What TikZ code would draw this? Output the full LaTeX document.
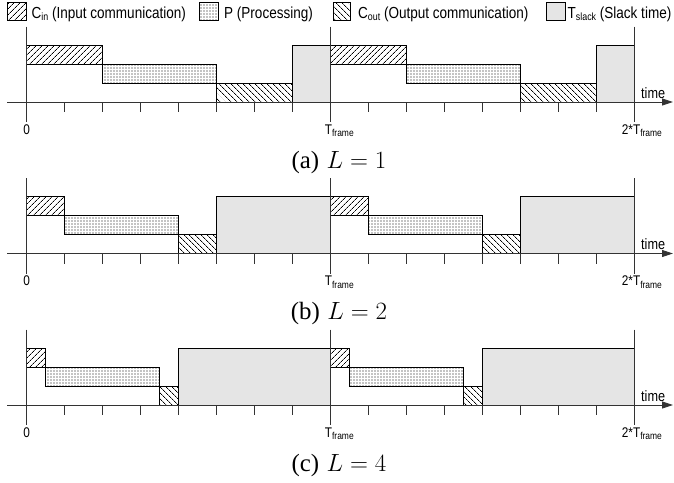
\documentclass[tikz,border=0pt]{standalone}
\usepackage{fontspec}
\newfontfamily\arial{Liberation Sans}
\newfontfamily\capserif{Liberation Serif}
\usetikzlibrary{patterns.meta,arrows.meta}
\newcommand\sq[1]{\scalebox{0.845}[1]{#1}}
\newcommand\legsub[1]{\raisebox{-2.5pt}{\fontsize{10.5}{12}\selectfont #1}}
\newcommand\ticksub[1]{\raisebox{-2.5pt}{\fontsize{10}{11}\selectfont #1}}
\def\xo{26.7}
\def\uw{38}
\tikzset{
  box/.style={draw=black, line width=0.7pt},
  cin/.style={box, pattern={Lines[angle=45,distance=4pt,line width=0.75pt]}},
  cout/.style={box, pattern={Lines[angle=-45,distance=4pt,line width=0.75pt]}},
  proc/.style={box, pattern={Dots[distance=3pt,radius=0.55pt]}},
  slack/.style={box, fill=black!10},
  axisline/.style={draw=black!80, line width=0.9pt},
  legend/.style={inner sep=0pt, anchor=base west, font=\arial\fontsize{16}{19}\selectfont},
  ticklab/.style={inner sep=0pt, anchor=base, font=\arial\fontsize{14}{16}\selectfont},
  timelab/.style={inner sep=0pt, anchor=base west, font=\arial\fontsize{15}{18}\selectfont},
  caption/.style={inner sep=0pt, anchor=base, font=\fontsize{24.88}{30}\selectfont},
}
\newcommand\drawpanel[5]{%
  \foreach \s in {0,8}{%
    \path[cin]   ({\xo+\s*\uw},{#1-57}) rectangle ({\xo+(\s+#2)*\uw},{#1-38});
    \path[proc]  ({\xo+(\s+#2)*\uw},{#1-38}) rectangle ({\xo+(\s+#3)*\uw},{#1-19});
    \path[cout]  ({\xo+(\s+#3)*\uw},{#1-19}) rectangle ({\xo+(\s+#4)*\uw},{#1});
    \path[slack] ({\xo+(\s+#4)*\uw},{#1-57}) rectangle ({\xo+(\s+8)*\uw},{#1});
  }
  \coordinate (#5-start) at (7,#1);
  \coordinate (#5-end) at (673,#1);
  \draw[axisline,-{Triangle[length=11pt,width=7pt]}] (#5-start) -- (#5-end);
  \foreach \k in {0,8,16} \draw[axisline] ({\xo+\k*\uw},{#1-75.5}) -- ({\xo+\k*\uw},{#1+20});
  \foreach \k in {1,...,15} \draw[axisline] ({\xo+\k*\uw},#1) -- ({\xo+\k*\uw},{#1+10});
  \node[ticklab] (#5-zero) at ({\xo},{#1+32}) {\sq{0}};
  \node[ticklab, anchor=base west] (#5-tf) at ({\xo+8*\uw-6},{#1+32}) {\sq{T\ticksub{frame}}};
  \node[ticklab, anchor=base west] (#5-ttf) at ({\xo+16*\uw-13},{#1+32}) {\sq{2*T\ticksub{frame}}};
  \node[timelab] (#5-time) at (641,{#1-4}) {\sq{time}};
}
\begin{document}
\begin{tikzpicture}[x=1pt,y=-1pt]
\useasboundingbox (0,0) rectangle (674,482);
% legend
\path[cin] (7.3,2) rectangle (26.7,20);
\node[legend] (lcin) at (31.5,18.3) {\sq{C\legsub{in} (Input communication)}};
\path[proc] (199,2) rectangle (218.3,20);
\node[legend] (lp) at (224,18.3) {\sq{P (Processing)}};
\path[cout] (333.3,2) rectangle (350.7,20);
\node[legend] (lcout) at (358,18.3) {\sq{C\legsub{out} (Output communication)}};
\path[slack] (546,2) rectangle (565,20);
\node[legend] (lslack) at (567.5,18.3) {\sq{T\legsub{slack} (Slack time)}};
% panels
\drawpanel{102}{2}{5}{7}{a}
\drawpanel{253.5}{1}{4}{5}{b}
\drawpanel{405}{0.5}{3.5}{4}{c}
% captions
\node[caption] (capa) at (339,168) {{\capserif (a)} $L=1$};
\node[caption] (capb) at (339,319.5) {{\capserif (b)} $L=2$};
\node[caption] (capc) at (339,471) {{\capserif (c)} $L=4$};
\end{tikzpicture}
\end{document}
